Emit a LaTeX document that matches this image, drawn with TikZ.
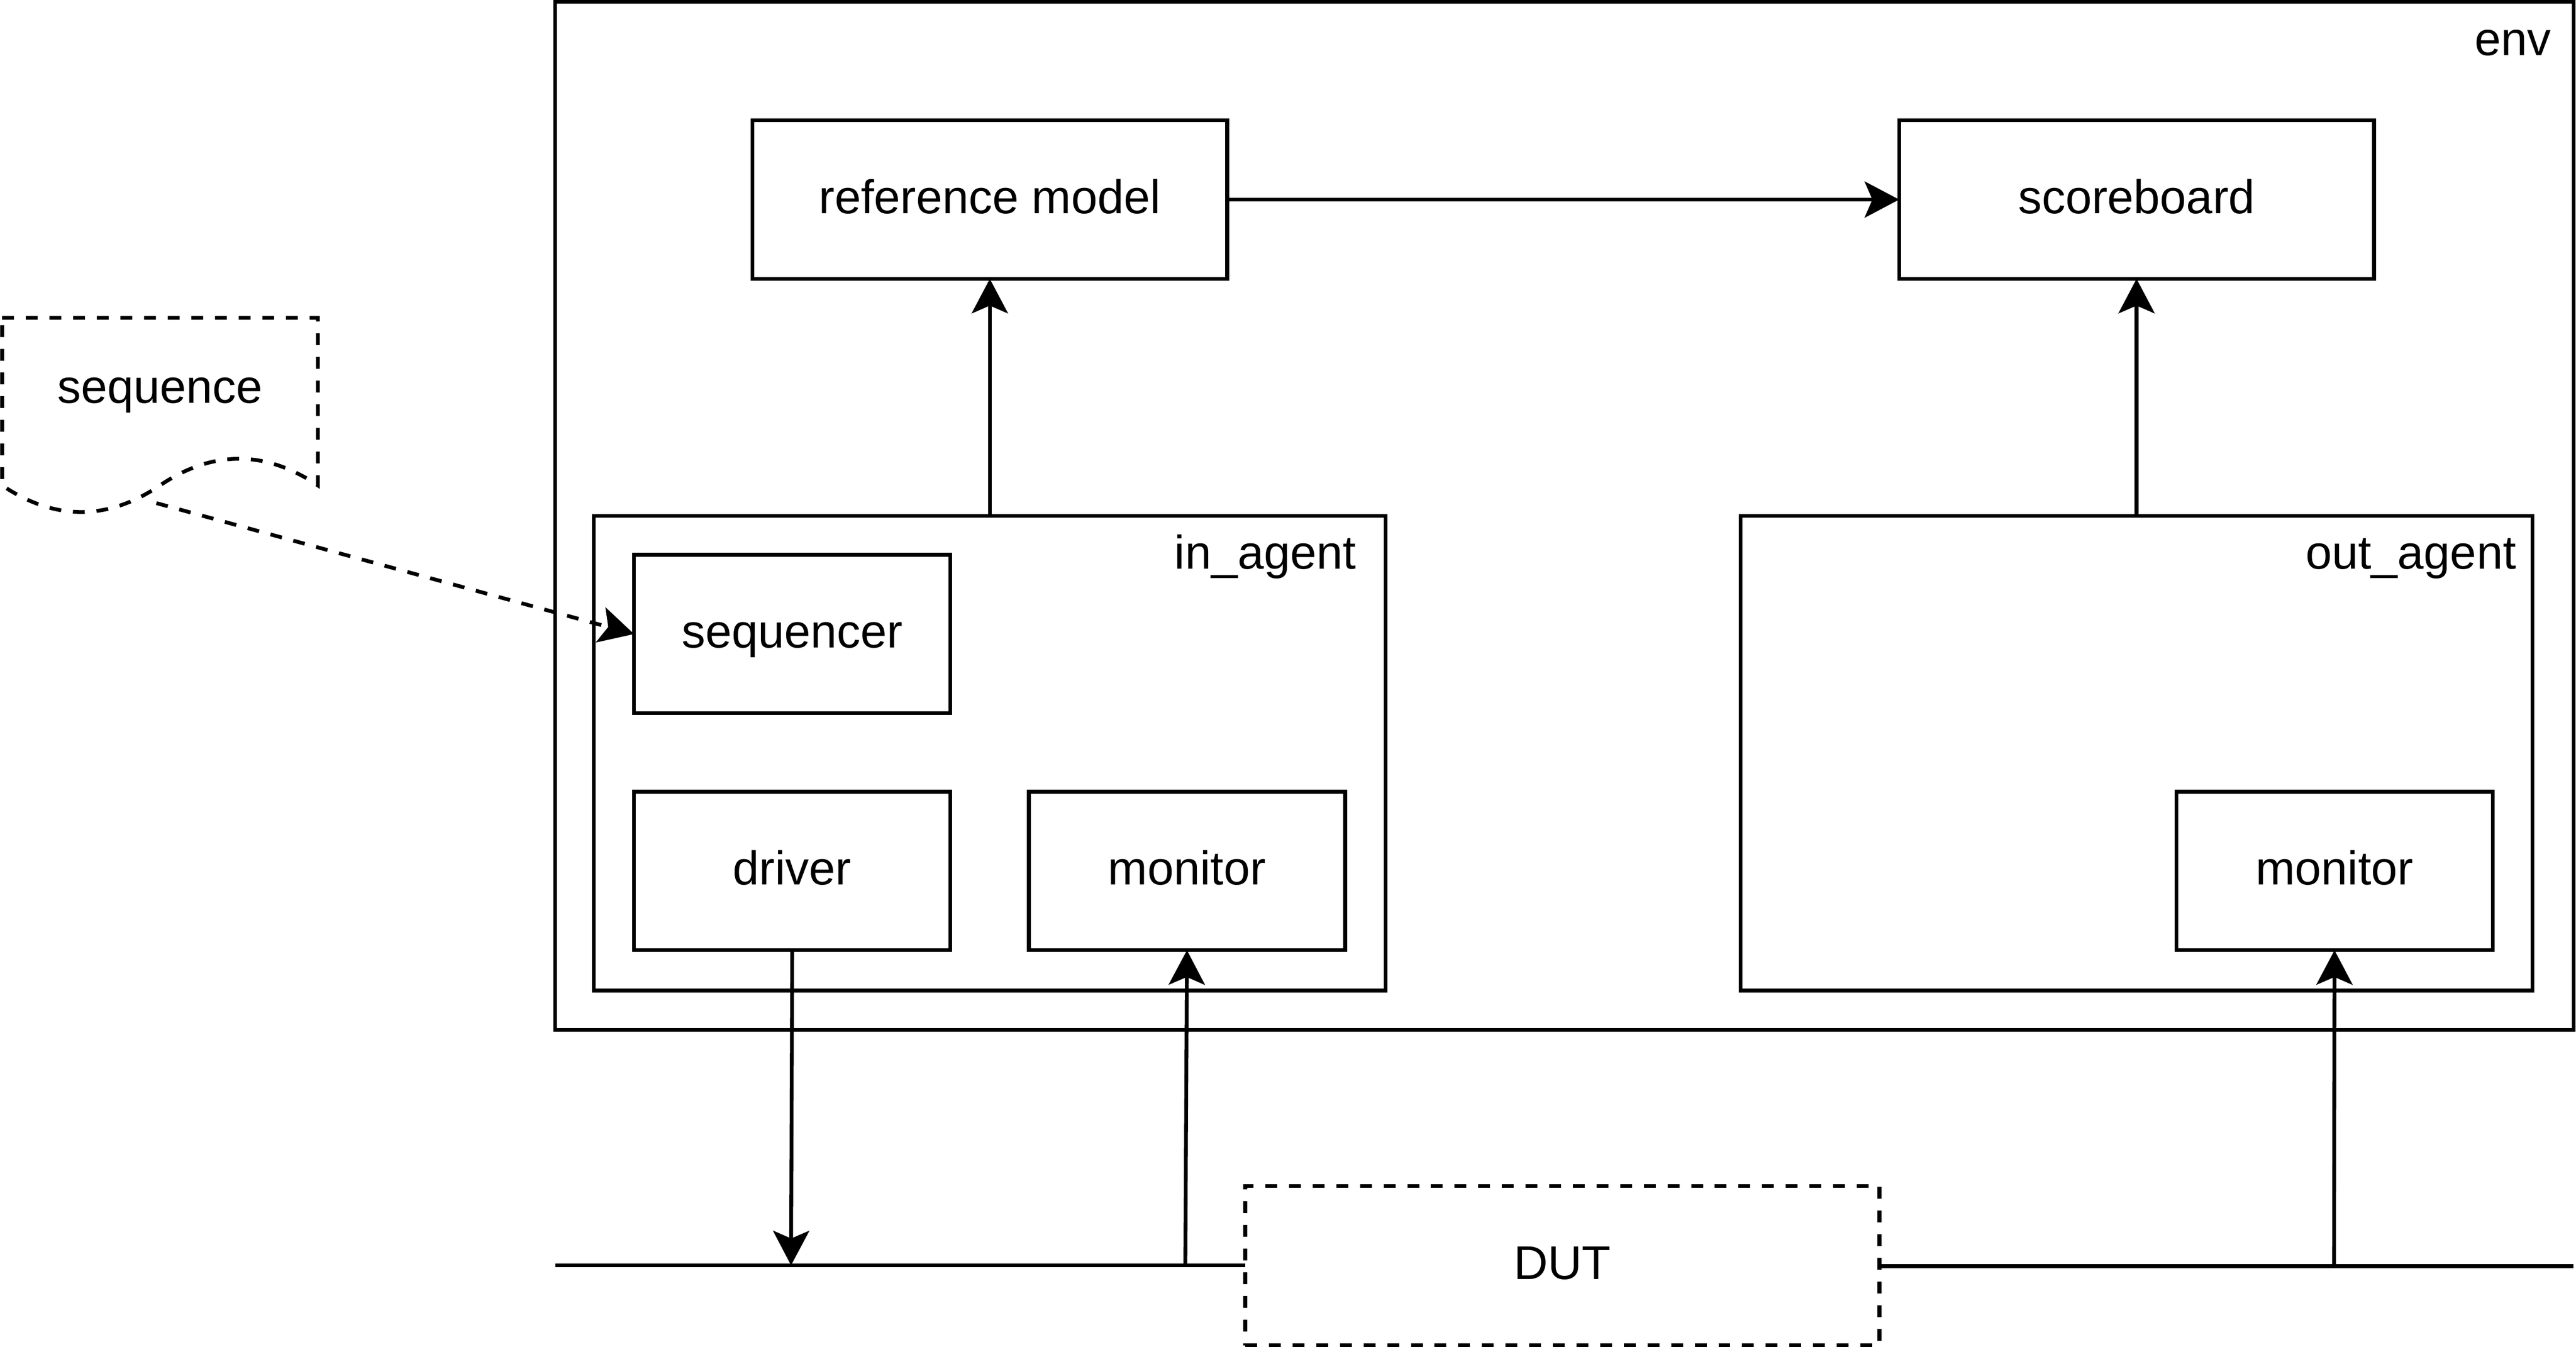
\documentclass[tikz,border=0pt]{standalone}
\usepackage{fontspec}
\setmainfont{Liberation Sans}
\usetikzlibrary{arrows.meta}
\begin{document}
\begin{tikzpicture}[x=1pt,y=-1pt,
  lw/.style={line width=2.3pt},
  txt/.style={font=\fontsize{28.8pt}{34pt}\selectfont, text height=20pt, text depth=3.2pt, inner sep=0pt},
  blk/.style={draw, lw, inner sep=0pt, outer sep=0pt, minimum width=192.5pt, minimum height=96.5pt, txt},
  wide/.style={blk, minimum width=289pt},
  cont/.style={draw, lw, inner sep=0pt, outer sep=0pt},
  lbl/.style={font=\fontsize{28.8pt}{34pt}\selectfont, inner sep=0pt, anchor=base east},
  dsh/.style={dash pattern=on 7.2pt off 7.2pt},
  arr/.style={lw, -{Stealth[length=21pt,width=22pt,inset=4.7pt]}}
]
\useasboundingbox (0,0) rectangle (1568,820);

% containers
\node[cont, minimum width=1228.5pt, minimum height=625.9pt] (env) at (952.25,314.05) {};
\node[lbl] (envlbl) at (1553,33.7) {env};
\node[cont, minimum width=482pt, minimum height=289pt] (inag) at (602.5,458.5) {};
\node[lbl] (inlbl) at (825.6,346.3) {in\_agent};
\node[cont, minimum width=482pt, minimum height=289pt] (outag) at (1300.5,458.5) {};
\node[lbl] (outlbl) at (1531.7,346.3) {out\_agent};

% blocks
\node[wide] (ref) at (602.5,121.5) {reference model};
\node[wide] (sb) at (1300.5,121.5) {scoreboard};
\node[blk] (seqr) at (482.2,386) {sequencer};
\node[blk] (drv) at (482.2,530.25) {driver};
\node[blk] (mon1) at (722.5,530.25) {monitor};
\node[blk] (mon2) at (1421,530.25) {monitor};

% DUT
\node[draw, lw, dsh, inner sep=0pt, outer sep=0pt, minimum width=386pt, minimum height=97pt, txt] (dut) at (951,770.5) {DUT};

% sequence document shape
\draw[lw, dsh] (1.3,193.5) -- (193.5,193.5) -- (193.5,295.5)
  .. controls (161.47,273.9) and (129.43,273.9) .. (97.4,295.5)
  .. controls (65.37,317.1) and (33.33,317.1) .. (1.3,295.5) -- cycle;
\node[txt, anchor=base, text height=, text depth=] (seqlbl) at (97.4,245.3) {sequence};
\coordinate (seqout) at (95.2,306.3);

% bus lines
\coordinate (lstart) at (338,770.3);
\coordinate (rend) at (1566.5,770.8);
\coordinate (drvhit) at (481.5,770.3);
\coordinate (mon1hit) at (721.5,770.3);
\coordinate (mon2hit) at (1420.7,770.8);
\draw[lw] (lstart) -- (dut.west |- lstart);
\draw[lw] (dut.east |- rend) -- (rend);

% connectors
\draw[arr] (ref.east) -- (sb.west);
\draw[arr] (inag.north) -- (ref.south);
\draw[arr] (outag.north) -- (sb.south);
\draw[arr] (drv.south) -- (drvhit);
\draw[arr] (mon1hit) -- (mon1.south);
\draw[arr] (mon2hit) -- (mon2.south);
\draw[arr, dsh] (seqout) -- (seqr.west);
\end{tikzpicture}
\end{document}
